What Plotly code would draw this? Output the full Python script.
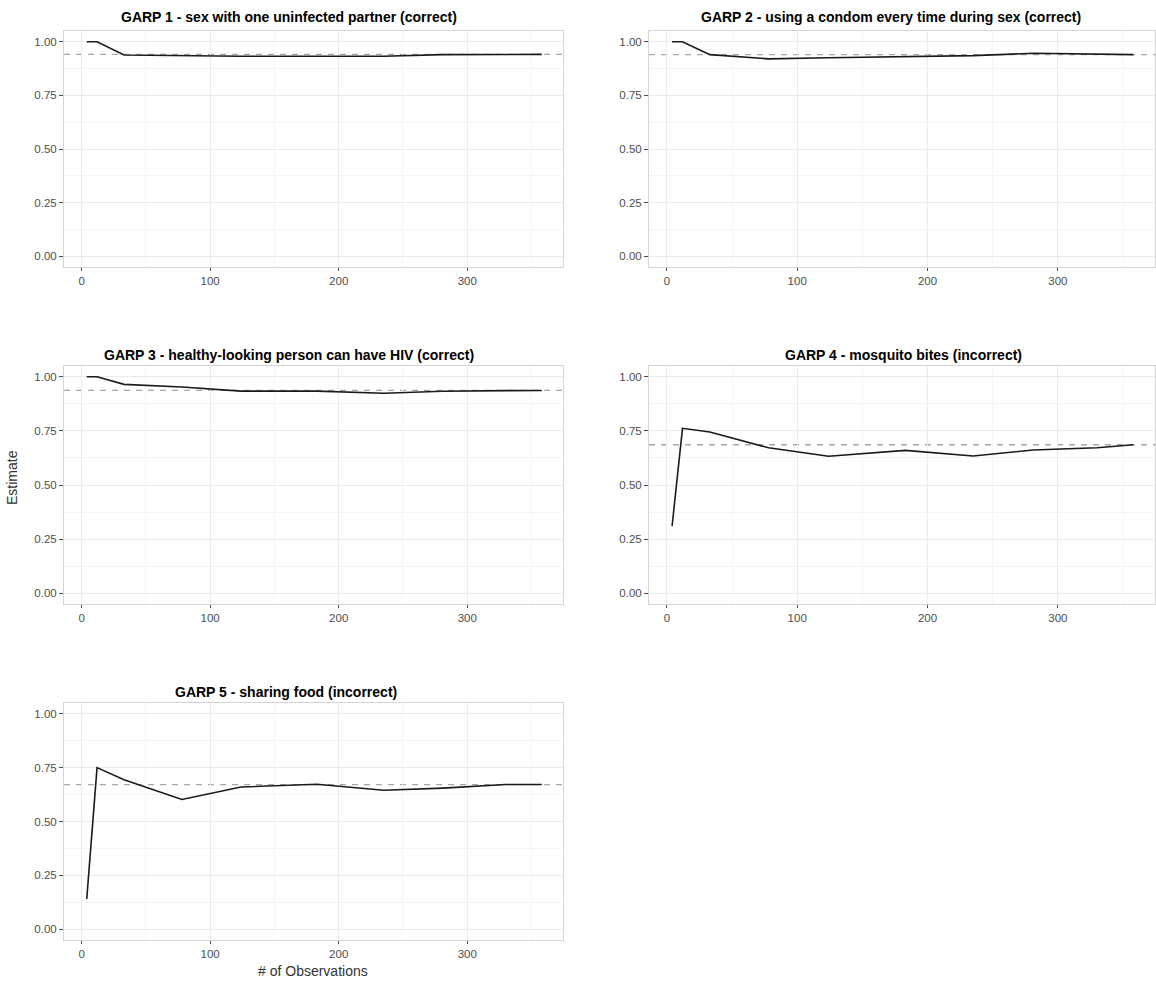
import plotly.graph_objects as go

# ---- data ----
n_obs = [4, 12, 33, 78, 124, 183, 235, 281, 330, 358]

titles = [
    "GARP 1 - sex with one uninfected partner (correct)",
    "GARP 2 - using a condom every time during sex (correct)",
    "GARP 3 - healthy-looking person can have HIV (correct)",
    "GARP 4 - mosquito bites (incorrect)",
    "GARP 5 - sharing food (incorrect)",
]

garp1 = [1.0, 1.0, 0.938, 0.934, 0.932, 0.932, 0.932, 0.940, 0.940, 0.941]
garp2 = [1.0, 1.0, 0.940, 0.920, 0.925, 0.930, 0.935, 0.946, 0.940, 0.940]
garp3 = [1.0, 1.0, 0.965, 0.953, 0.934, 0.934, 0.924, 0.933, 0.936, 0.937]
garp4 = [0.31, 0.762, 0.745, 0.672, 0.633, 0.660, 0.634, 0.662, 0.672, 0.686]
garp5 = [0.14, 0.750, 0.694, 0.602, 0.660, 0.673, 0.645, 0.655, 0.672, 0.672]

overall = [0.941, 0.940, 0.937, 0.686, 0.671]

y_ticks = [0, 0.25, 0.5, 0.75, 1.0]
y_ticktext = ["0.00", "0.25", "0.50", "0.75", "1.00"]
x_ticks = [0, 100, 200, 300]

series = [garp1, garp2, garp3, garp4, garp5]

# ---- layout geometry (pixels) ----
W, H = 1156, 983
col_x = [(64, 563), (649, 1155)]
row_y = [(31, 267), (366, 604), (703, 940)]
title_y = [17, 355, 692]
positions = [(0, 0), (0, 1), (1, 0), (1, 1), (2, 0)]
title_cx = [289, 891, 289, 903, 286]

FONT = "Liberation Sans, Arial, Helvetica, sans-serif"

fig = go.Figure()
layout = dict(
    width=W, height=H,
    margin=dict(l=0, r=0, t=0, b=0),
    paper_bgcolor="white", plot_bgcolor="white",
    showlegend=False,
    font=dict(family=FONT, color="#4d4d4d", size=11),
)
annotations = []
shapes = []

for i, (ys, title, ref) in enumerate(zip(series, titles, overall)):
    r, c = positions[i]
    k = "" if i == 0 else str(i + 1)
    x0, x1 = col_x[c]
    y0, y1 = row_y[r]
    xa = dict(
        domain=[x0 / W, x1 / W], anchor="y" + k,
        range=[-13.7, 374.5], tickvals=x_ticks, ticktext=[str(v) for v in x_ticks],
        showgrid=True, gridcolor="#ebebeb", gridwidth=1,
        minor=dict(dtick=50, tick0=0, showgrid=True, gridcolor="#f5f5f5", gridwidth=1, ticks=""),
        showline=True, mirror=True, linecolor="#d4d4d4", linewidth=1,
        ticks="outside", ticklen=3, tickcolor="#4d4d4d", tickwidth=1,
        zeroline=False, tickfont=dict(size=11.5, color="#4d4d4d", family=FONT),
    )
    ya = dict(
        domain=[1 - y1 / H, 1 - y0 / H], anchor="x" + k,
        range=[-0.05, 1.05], tickvals=y_ticks, ticktext=y_ticktext,
        showgrid=True, gridcolor="#ebebeb", gridwidth=1,
        minor=dict(dtick=0.125, tick0=0, showgrid=True, gridcolor="#f5f5f5", gridwidth=1, ticks=""),
        showline=True, mirror=True, linecolor="#d4d4d4", linewidth=1,
        ticks="outside", ticklen=4, tickcolor="#4d4d4d", tickwidth=1,
        zeroline=False, tickfont=dict(size=11.5, color="#4d4d4d", family=FONT),
    )
    layout["xaxis" + k] = xa
    layout["yaxis" + k] = ya

    fig.add_trace(go.Scatter(
        x=n_obs, y=ys, mode="lines", xaxis="x" + k, yaxis="y" + k,
        line=dict(color="#1a1a1a", width=1.6),
    ))
    shapes.append(dict(
        type="line", xref="x" + k + " domain", yref="y" + k,
        x0=0, x1=1, y0=ref, y1=ref,
        line=dict(color="#a6a6a6", width=1.3, dash="6px,6px"),
        layer="below",
    ))
    annotations.append(dict(
        text="<b>" + title + "</b>", x=title_cx[i] / W, y=1 - title_y[r] / H,
        xref="paper", yref="paper", xanchor="center", yanchor="middle",
        showarrow=False, font=dict(size=14, color="black", family=FONT),
    ))

annotations.append(dict(
    text="Estimate", x=12 / W, y=1 - 478 / H, xref="paper", yref="paper",
    textangle=-90, showarrow=False, xanchor="center", yanchor="middle",
    font=dict(size=14, color="#333333", family=FONT),
))
annotations.append(dict(
    text="# of Observations", x=313 / W, y=1 - 971 / H, xref="paper", yref="paper",
    showarrow=False, xanchor="center", yanchor="middle",
    font=dict(size=14, color="#333333", family=FONT),
))

layout["annotations"] = annotations
layout["shapes"] = shapes
fig.update_layout(**layout)
fig.write_html("out.html", config={"displayModeBar": False})

# remove the default page margin so the figure sits at the window's top-left
with open("out.html", encoding="utf-8") as fh:
    html = fh.read()
html = html.replace("<head>", "<head><style>html,body{margin:0;padding:0;overflow:hidden;}</style>", 1)
with open("out.html", "w", encoding="utf-8") as fh:
    fh.write(html)
